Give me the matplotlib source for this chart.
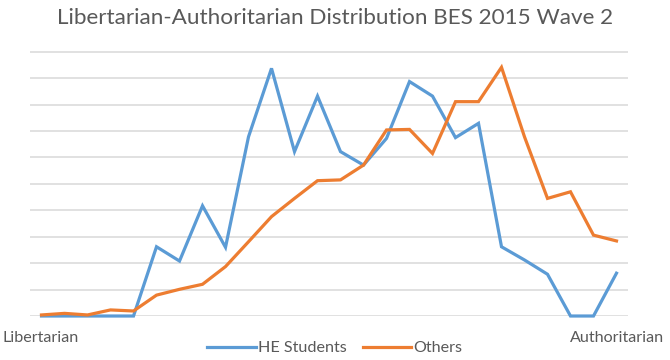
import numpy as np
import matplotlib.pyplot as plt

# scale positions, libertarian (left) to authoritarian (right)
positions = np.arange(26)

he_students = [0, 0, 0, 0, 0, 2.62, 2.08, 4.17, 2.60, 6.78, 9.37, 6.22, 8.32,
               6.22, 5.71, 6.72, 8.87, 8.32, 6.75, 7.29, 2.62, 2.12, 1.58, 0, 0, 1.62]
others = [0.04, 0.10, 0.04, 0.23, 0.19, 0.79, 1.01, 1.20, 1.87, 2.81, 3.76, 4.45, 5.12,
          5.15, 5.71, 7.04, 7.06, 6.15, 8.11, 8.11, 9.41, 6.78, 4.45, 4.70, 3.06, 2.84]

grey_text = '#595959'
plt.rcParams['font.family'] = ['Lato', 'DejaVu Sans']

fig = plt.figure(figsize=(6.7, 3.6), dpi=100)
ax = fig.add_axes([0.0448, 0.1222, 0.8925, 0.7415])

ax.plot(positions, he_students, color='#5B9BD5', lw=2.3, label='HE Students', clip_on=False,
        solid_joinstyle='miter')
ax.plot(positions, others, color='#ED7D31', lw=2.3, label='Others', clip_on=False,
        solid_joinstyle='miter')

ax.set_xlim(-0.5, 25.5)
ax.set_ylim(0, 10.1)
ax.set_yticks(np.arange(0, 11, 1))
ax.grid(axis='y', color='#d9d9d9', lw=1.1)
ax.set_axisbelow(True)
ax.tick_params(left=False, bottom=False, labelleft=False, labelbottom=False)
for s in ax.spines.values():
    s.set_visible(False)

fig.text(0.5, 0.95, 'Libertarian-Authoritarian Distribution BES 2015 Wave 2',
         ha='center', va='center', fontsize=16.2, color=grey_text)
fig.text(0.004, 0.06, 'Libertarian', ha='left', va='center', fontsize=11.6, color=grey_text)
fig.text(0.991, 0.06, 'Authoritarian', ha='right', va='center', fontsize=11.6, color=grey_text)

fig.legend(loc='center', bbox_to_anchor=(0.5, 0.033), ncol=2, frameon=False,
           fontsize=11.6, labelcolor=grey_text, handlelength=3.0, handletextpad=0.15,
           columnspacing=1.0)

fig.savefig('out.png', dpi=100)
